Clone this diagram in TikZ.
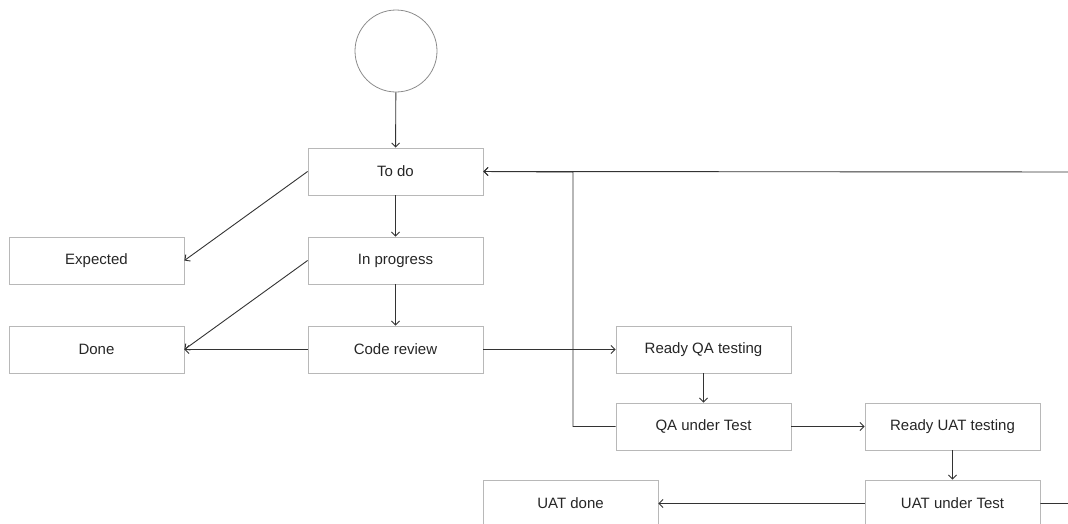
\documentclass[tikz,border=0pt]{standalone}
\usepackage{fontspec}
\setmainfont{Liberation Sans}
\usetikzlibrary{arrows.meta}
\begin{document}
\begin{tikzpicture}[x=1pt,y=-1pt,
  box/.style={draw=black!28,line width=0.8pt,minimum width=175pt,minimum height=47pt,inner sep=0pt,font=\fontsize{15}{17}\selectfont,text=black!85},
  startc/.style={draw=black!45,line width=0.8pt,circle,minimum size=82pt,inner sep=0pt},
  conn/.style={draw=black!80,line width=0.9pt,-{Straight Barb[length=4pt,width=8pt]}},
  plain/.style={draw=black!80,line width=0.9pt}]
\useasboundingbox (0,0) rectangle (1068,523);
\node[startc] (start) at (396,51) {};
\node[box] (todo) at (395.5,171.5) {To do};
\node[box] (exp) at (96.5,260.5) {Expected};
\node[box] (inprog) at (395.5,260.5) {In progress};
\node[box] (done) at (96.5,349.5) {Done};
\node[box] (code) at (395.5,349.5) {Code review};
\node[box] (rqa) at (703.5,349.5) {Ready QA testing};
\node[box] (qa) at (703.5,426.5) {QA under Test};
\node[box] (ruat) at (952.5,426.5) {Ready UAT testing};
\node[box] (uatdone) at (570.5,503.5) {UAT done};
\node[box] (uat) at (952.5,503.5) {UAT under Test};
\coordinate (qaturn) at (573,426.5);
\coordinate (qatop) at (573,172);
\coordinate (far1) at (1090,503.5);
\coordinate (far2) at (1090,172);
\draw[conn] (start) -- (todo);
\draw[conn] (todo) -- (inprog);
\draw[conn] (inprog) -- (code);
\draw[conn] (todo.west) -- (exp.east);
\draw[conn] (inprog.west) -- (done.east);
\draw[conn] (code.west) -- (done.east);
\draw[conn] (code.east) -- (rqa.west);
\draw[conn] (rqa) -- (qa);
\draw[conn] (qa.west) -- (qaturn) -- (qatop) -- (todo.east);
\draw[conn] (qa.east) -- (ruat.west);
\draw[conn] (ruat) -- (uat);
\draw[conn] (uat.west) -- (uatdone.east);
\draw[conn] (uat.east) -- (far1) -- (far2) -- (todo.east);
\end{tikzpicture}
\end{document}
